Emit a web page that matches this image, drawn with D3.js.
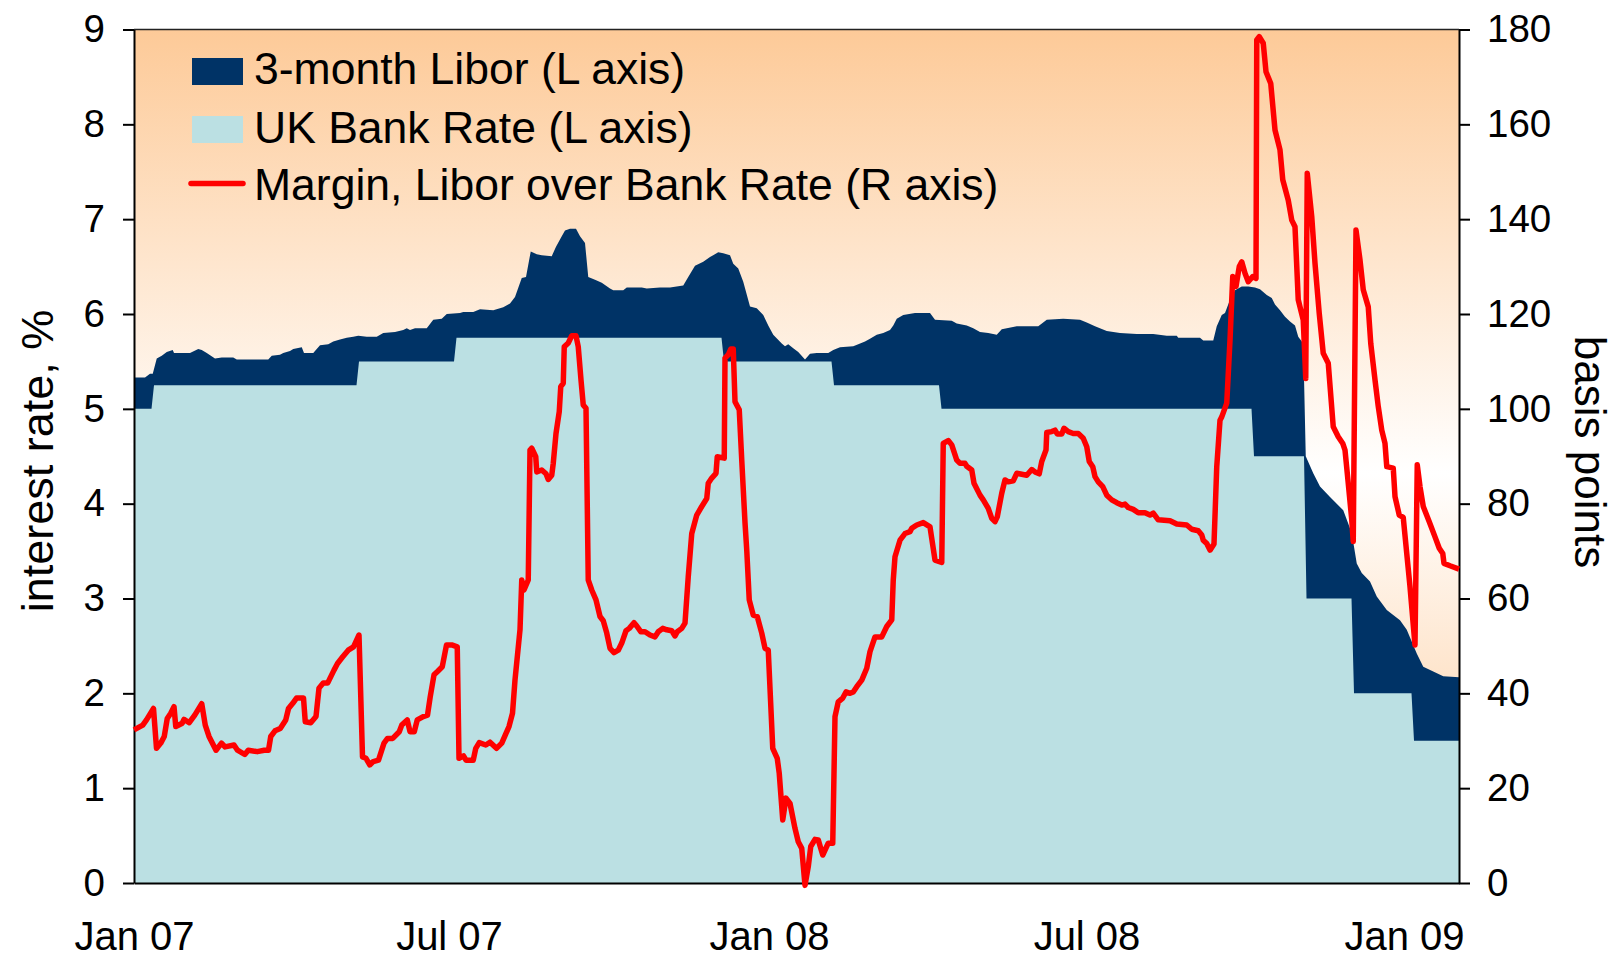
<!DOCTYPE html>
<html>
<head>
<meta charset="utf-8">
<script src="https://cdn.jsdelivr.net/npm/d3@7"></script>
<style>
body { margin: 0; background: #fff; }
svg { font-family: Arial, "Liberation Sans", sans-serif; }
</style>
</head>
<body>
<svg width="1616" height="957"></svg>
<script>
// x positions are business-day numbers counted from the first observation
var lastDay = 530;
var dayTicks = [0, 126, 254, 381, 508];
var dayLabels = ["Jan 07", "Jul 07", "Jan 08", "Jul 08", "Jan 09"];
var rateTicks = [0, 1, 2, 3, 4, 5, 6, 7, 8, 9];
var bpTicks = [0, 20, 40, 60, 80, 100, 120, 140, 160, 180];

// [first day of new rate, rate %]
var bankRateSteps = [[0, 5.0], [8, 5.25], [90, 5.5], [129, 5.75], [236, 5.5], [280, 5.25],
    [323, 5.0], [448, 4.5], [469, 3.0], [488, 2.0], [512, 1.5]];

// 3-month Libor, %
var libor = [[0,5.33],[4.4,5.33],[6.4,5.37],[7.5,5.37],[9.1,5.53],[11.1,5.56],[13.1,5.60],[15.5,5.62],
    [16,5.59],[22.4,5.59],[25.7,5.63],[27.1,5.62],[29.1,5.59],[32.4,5.53],[35.1,5.54],[39.7,5.54],
    [41.1,5.52],[53.7,5.52],[55.1,5.56],[58.4,5.57],[59.7,5.59],[62.4,5.61],[63.7,5.63],[67.1,5.65],
    [68,5.59],[71.7,5.59],[74.4,5.67],[77.7,5.68],[79.7,5.71],[82.4,5.73],[85.1,5.75],[87.7,5.76],
    [89.7,5.77],[93.1,5.76],[97.1,5.76],[99.7,5.80],[104.4,5.81],[107.7,5.83],[109.1,5.85],[110.4,5.83],
    [112.4,5.85],[117.1,5.85],[119.7,5.94],[123.1,5.95],[125.1,6.00],[130.4,6.01],[131.7,6.02],
    [135.7,6.02],[138.4,6.05],[143.7,6.04],[147.7,6.07],[150.4,6.11],[152.4,6.18],[155.1,6.38],
    [156.8,6.39],[158.7,6.66],[161.1,6.63],[163.1,6.62],[167.1,6.61],[168.8,6.71],[171.1,6.82],
    [172.4,6.88],[174.4,6.90],[176.8,6.90],[178.4,6.82],[180.4,6.75],[181.7,6.39],[184.4,6.36],
    [187.1,6.33],[190.4,6.27],[191.7,6.25],[195.7,6.25],[197.1,6.28],[203.1,6.28],[205.1,6.27],
    [210.4,6.28],[214.4,6.28],[219.7,6.30],[221.7,6.39],[224.4,6.51],[227.7,6.55],[230.4,6.60],
    [233.7,6.65],[235.7,6.64],[238.4,6.62],[239.7,6.53],[241.7,6.48],[243.7,6.34],[246.4,6.08],
    [249.1,6.06],[251.7,5.99],[253.7,5.88],[255.7,5.78],[259.1,5.69],[260.4,5.66],[261.7,5.68],
    [263.7,5.64],[265.7,5.60],[268.4,5.52],[270.4,5.58],[273.1,5.59],[277.7,5.59],[279.7,5.62],
    [282.4,5.65],[287.7,5.66],[289.7,5.68],[292.4,5.71],[294.4,5.74],[297.1,5.78],[299.7,5.80],
    [302.4,5.83],[303.7,5.88],[305.1,5.95],[307.7,5.99],[312.4,6.01],[318.4,6.01],[320.4,5.94],
    [327.1,5.93],[329.1,5.90],[333.1,5.88],[335.7,5.85],[338.4,5.81],[341.7,5.80],[345.1,5.78],
    [347.1,5.84],[353.1,5.87],[361.7,5.87],[365.1,5.94],[371.7,5.95],[378.4,5.94],[381.1,5.91],
    [384.4,5.87],[389.1,5.82],[394.4,5.80],[401.1,5.79],[407.7,5.79],[413.1,5.77],[417.1,5.77],
    [417.7,5.75],[426.4,5.75],[427.7,5.72],[431.7,5.72],[433.1,5.87],[435.1,5.99],[436.4,6.01],
    [438.4,6.15],[440.4,6.25],[443.1,6.29],[445.7,6.29],[448.4,6.28],[450.4,6.26],[453.1,6.20],
    [455.1,6.17],[456.4,6.10],[458.4,6.04],[460.4,5.97],[462.4,5.92],[464.4,5.88],[465.7,5.76],
    [467.7,5.69],[468.7,4.50],[471.7,4.32],[474.4,4.18],[478.4,4.07],[483.7,3.93],[487.1,3.69],
    [489.1,3.37],[491.1,3.27],[494.4,3.18],[497.1,3.02],[501.1,2.88],[506.4,2.77],[509.1,2.67],
    [513.1,2.42],[515.7,2.28],[519.7,2.23],[523.7,2.18],[530,2.17]];

// margin of Libor over Bank Rate, basis points
var margin = [[0,32.3],[3.5,33.3],[5,34.4],[7.8,36.8],[9,28.4],[10.7,29.5],[12.1,30.9],[13.3,34.7],
    [14.7,35.8],[16,37.2],[16.7,33.0],[19.3,33.7],[20,34.5],[22.1,33.8],[24.3,35.4],[27.1,37.8],
    [28.5,33.3],[30,30.9],[32.8,28.0],[35,29.5],[36.4,28.7],[40,29.1],[41.4,28.0],[44.3,27.1],
    [45.7,28.0],[49.3,27.7],[52.1,28.0],[53.8,28.0],[54.7,30.9],[56.4,32.1],[58.5,32.6],[60.7,34.4],
    [61.8,36.8],[63.5,37.9],[65,39.0],[67.8,39.0],[68.5,34.0],[70.7,33.8],[72.8,35.1],[74,41.1],
    [75.7,42.2],[77.5,42.2],[80,44.9],[81.4,46.3],[83.5,47.7],[85.7,49.1],[87.8,49.8],[90,52.3],
    [91.4,26.6],[92.8,26.3],[94.3,24.9],[95.7,25.6],[97.8,25.9],[100,29.5],[101.4,30.5],[103.5,30.5],
    [106.1,31.9],[107.1,33.3],[109.3,34.4],[110.4,31.9],[112.1,31.9],[113.3,34.4],[115.7,35.1],
    [117.4,35.4],[118.5,39.3],[120,43.9],[121.4,44.6],[123.3,45.6],[125,50.2],[127.1,50.2],
    [129.3,49.8],[130,26.3],[131.8,26.8],[132.8,25.9],[135.7,25.9],[136.7,28.4],[138.1,29.6],
    [140.7,29.1],[142.4,29.7],[145,28.4],[147.1,29.5],[148.5,31.2],[150,33.0],[151.4,35.8],
    [152.4,42.8],[154.4,53.4],[155.1,63.9],[156,61.8],[157.7,63.9],[158.4,91.3],[159.1,91.7],
    [160.7,89.9],[161.1,86.7],[163.1,87.1],[164.8,86.3],[165.7,85.1],[167.1,86.0],[167.7,88.5],
    [168.8,94.8],[170.1,99.4],[170.7,104.7],[171.7,105.4],[172.1,113.1],[173.7,113.9],[175.1,115.4],
    [176.8,115.4],[177.7,113.1],[178.8,106.1],[179.7,100.8],[180.8,100.1],[181.7,63.9],[183.1,61.8],
    [184.8,59.7],[186.4,56.2],[187.7,55.3],[189.1,52.7],[190.4,49.5],[192,48.6],[193.7,49.1],
    [195.1,50.6],[196.8,53.2],[198.1,53.7],[200,54.9],[201.1,54.2],[202.7,53.0],[204.4,53.0],
    [206.4,52.3],[208.4,51.9],[209.7,53.0],[211.5,53.7],[213.1,53.4],[215.1,53.2],[216.4,52.1],
    [217.3,53.0],[219.1,53.7],[220.4,54.8],[221.7,64.6],[223.1,73.7],[225.1,77.6],[227.1,79.4],
    [229.1,81.1],[229.7,84.3],[231.1,85.4],[232.8,86.4],[233.3,89.9],[236.1,89.6],[236.4,110.7],
    [237.7,111.4],[238.7,112.6],[239.7,112.6],[240.4,101.5],[242.1,99.8],[243.1,89.2],[244.4,76.0],
    [245.1,70.2],[246.1,59.7],[247.7,56.5],[249.3,56.2],[251.1,52.7],[252.4,49.5],[253.7,49.1],
    [255.5,28.4],[257.3,26.3],[258.1,23.1],[259.5,13.3],[260.8,17.9],[262.4,16.8],[264.4,11.5],
    [265.7,8.7],[267.1,7.3],[268.4,-0.5],[269.7,3.4],[270.7,7.7],[272.4,9.2],[273.7,9.1],[275.5,5.9],
    [277.7,8.4],[279.5,8.4],[280.4,35.1],[281.7,38.2],[283.5,39.0],[284.8,40.3],[286.4,40.0],
    [287.7,40.3],[289.1,41.4],[291.1,42.8],[293.1,45.3],[294.4,48.8],[296.4,51.9],[299.1,51.9],
    [301.1,54.1],[303.1,55.5],[303.7,63.9],[304.4,68.8],[306.4,72.3],[308.4,73.7],[310.4,74.1],
    [311.1,74.8],[313.1,75.5],[315.7,76.0],[318.4,75.1],[320.4,68.1],[323.1,67.6],[323.7,92.7],
    [325.7,93.3],[327.1,92.4],[329.1,89.2],[330.4,88.5],[332.4,88.5],[333.1,87.9],[335.1,87.1],
    [336,84.3],[338.4,81.8],[339.7,80.8],[341.7,79.0],[343.1,76.9],[344.4,76.2],[345.3,77.2],
    [347.1,82.2],[348.4,85.0],[349.7,84.6],[351.7,84.8],[353.1,86.4],[355.1,86.2],[357.1,86.0],
    [359.1,87.2],[360.4,86.7],[362.1,86.3],[363.1,88.9],[364.8,91.3],[365.1,95.0],[367.1,95.2],
    [368.4,95.5],[369.3,94.7],[371.1,94.7],[372,95.9],[373.7,95.2],[375.7,94.8],[377.7,94.8],
    [379.7,93.8],[381.1,92.0],[382.1,88.9],[383.5,87.8],[384.4,85.7],[385.7,84.6],[387.5,83.6],
    [389.1,81.8],[391.1,80.8],[393.1,80.2],[395.1,79.7],[396.4,79.9],[397.7,79.2],[399.7,78.8],
    [401.7,78.1],[404.4,78.1],[406.4,77.6],[407.7,78.0],[409.7,76.6],[414.4,76.4],[417.1,75.7],
    [421.1,75.5],[423.1,74.6],[425.7,74.3],[427.1,73.4],[427.7,72.3],[429.1,71.6],[430.4,70.2],
    [432,71.5],[433.1,87.8],[434.4,97.6],[435.1,98.3],[437.1,101.2],[438.4,114.5],[439.5,127.9],
    [440.8,125.8],[442.1,130.0],[443.1,131.0],[444.4,128.6],[445.7,126.8],[447.5,127.9],[448.8,127.5],
    [449.1,177.8],[450.1,178.5],[451.7,177.1],[452.8,171.1],[454.7,168.6],[456.4,158.8],[458.4,154.6],
    [459.5,148.3],[461.7,144.0],[463.1,139.8],[464.4,138.4],[465.7,123.0],[467.7,118.7],[468.7,106.4],
    [469.3,149.7],[471.1,140.5],[472.4,130.7],[474.1,120.1],[475.7,111.7],[477.7,109.6],[479.7,96.2],
    [481.7,94.1],[483.5,92.7],[484.4,91.3],[485.7,84.3],[487.1,76.6],[487.7,72.0],[488.8,137.7],
    [490.4,131.4],[491.7,125.1],[493.7,121.5],[494.7,113.8],[496.4,106.1],[497.7,100.5],[499.1,95.5],
    [500.4,92.7],[501.1,87.8],[503.7,87.5],[504.4,81.5],[506.1,77.6],[507.7,77.1],[509.1,69.5],
    [510.4,62.5],[512.4,50.2],[513.3,88.2],[514.4,83.6],[515.7,79.4],[518.1,76.2],[520.4,73.0],
    [522.1,70.6],[523.5,69.5],[524,67.4],[526.4,66.9],[530,66.2]];

var legendNames = ["3-month Libor (L axis)", "UK Bank Rate (L axis)", "Margin, Libor over Bank Rate (R axis)"];

var bankRate = [];
bankRateSteps.forEach(function (s, i) {
    var end = i < bankRateSteps.length - 1 ? bankRateSteps[i + 1][0] - 1 : lastDay;
    bankRate.push([s[0], s[1]]);
    bankRate.push([end, s[1]]);
});

var svg = d3.select("svg");
var plotL = 134, plotR = 1459, plotT = 29.5, plotB = 883;

var xScale = d3.scaleLinear().domain([0, lastDay]).range([plotL, plotR]);
var yScale = d3.scaleLinear().domain([0, 9]).range([plotB, plotT]);
var bpScale = d3.scaleLinear().domain([0, 180]).range([plotB, plotT]);

var grad = svg.append("defs").append("linearGradient").attr("id", "bg")
    .attr("x1", 0).attr("y1", 0).attr("x2", 0).attr("y2", 1);
grad.append("stop").attr("offset", "0%").attr("stop-color", "#fdca98");
grad.append("stop").attr("offset", "52%").attr("stop-color", "#ffffff");
grad.append("stop").attr("offset", "100%").attr("stop-color", "#fdca98");

svg.append("rect").attr("x", plotL).attr("y", plotT).attr("width", plotR - plotL).attr("height", plotB - plotT)
    .attr("fill", "url(#bg)");

var rateArea = d3.area().x(function (d) { return xScale(d[0]); })
    .y0(yScale(0)).y1(function (d) { return yScale(d[1]); });

svg.append("path").attr("d", rateArea(libor)).attr("fill", "#003366");
svg.append("path").attr("d", rateArea(bankRate)).attr("fill", "#bbe0e3");

svg.append("line").attr("x1", plotL).attr("x2", plotR).attr("y1", plotT).attr("y2", plotT)
    .attr("stroke", "#222").attr("stroke-width", 1.5);

var yAxis = d3.axisLeft(yScale).tickValues(rateTicks).tickSize(11).tickSizeOuter(0).tickPadding(18);
svg.append("g").attr("id", "yAxisG").attr("transform", "translate(" + plotL + ",0)").call(yAxis);

var bpAxis = d3.axisRight(bpScale).tickValues(bpTicks).tickSize(11).tickSizeOuter(0).tickPadding(17);
svg.append("g").attr("id", "bpAxisG").attr("transform", "translate(" + plotR + ",0)").call(bpAxis);

var xAxis = d3.axisBottom(xScale).tickValues(dayTicks).tickFormat(function (d, i) { return dayLabels[i]; })
    .tickSize(0).tickSizeOuter(0).tickPadding(39);
svg.append("g").attr("id", "xAxisG").attr("transform", "translate(0," + plotB + ")").call(xAxis);

svg.selectAll("#yAxisG, #bpAxisG, #xAxisG").attr("font-family", null);
svg.selectAll("#yAxisG text, #bpAxisG text").attr("font-size", 38.5).attr("fill", "#000");
svg.selectAll("#xAxisG text").attr("font-size", 40).attr("fill", "#000");
svg.selectAll(".domain, .tick line").attr("stroke", "#000").attr("stroke-width", 2);

var marginLine = d3.line().x(function (d) { return xScale(d[0]); }).y(function (d) { return bpScale(d[1]); });
svg.append("path").attr("d", marginLine(margin)).attr("fill", "none").attr("stroke", "#ff0000")
    .attr("stroke-width", 5.5).attr("stroke-linejoin", "round");

// legend
var legend = svg.append("g");
legend.append("rect").attr("x", 192).attr("y", 58).attr("width", 51).attr("height", 27).attr("fill", "#003366");
legend.append("rect").attr("x", 192).attr("y", 116).attr("width", 51).attr("height", 27).attr("fill", "#bbe0e3");
legend.append("line").attr("x1", 191).attr("x2", 243).attr("y1", 183.5).attr("y2", 183.5)
    .attr("stroke", "#ff0000").attr("stroke-width", 5.5).attr("stroke-linecap", "round");
legend.selectAll("text").data(legendNames).enter().append("text")
    .attr("x", 254).attr("y", function (d, i) { return [84, 142.5, 199.5][i]; })
    .attr("font-size", 44.5).text(function (d) { return d; });

svg.append("text").attr("transform", "translate(53,461) rotate(-90)").attr("text-anchor", "middle")
    .attr("font-size", 45).text("interest rate, %");
svg.append("text").attr("transform", "translate(1575,452) rotate(90)").attr("text-anchor", "middle")
    .attr("font-size", 44).text("basis points");
</script>
</body>
</html>
